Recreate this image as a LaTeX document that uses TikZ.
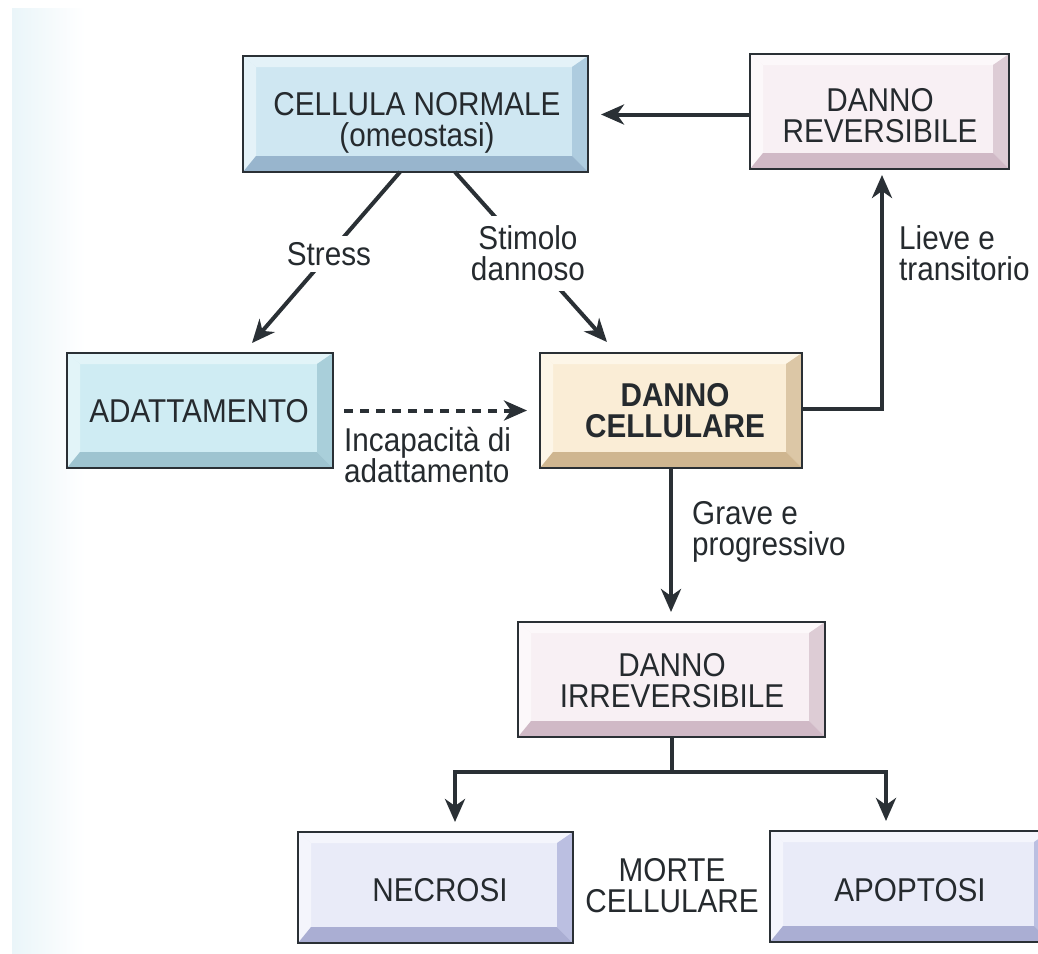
\documentclass[tikz,border=0pt]{standalone}
\usepackage{fontspec}
\setmainfont{Liberation Sans}[FakeStretch=0.9]
\usetikzlibrary{calc,arrows.meta}
\definecolor{ink}{HTML}{2A3035}
\definecolor{txt}{HTML}{252A2E}
\definecolor{strip}{HTML}{EAF5F9}
% cellula normale (blue)
\definecolor{cnF}{HTML}{CFE7F2}\definecolor{cnL}{HTML}{E4F2F8}\definecolor{cnR}{HTML}{AECCDF}\definecolor{cnB}{HTML}{98B5CD}
% adattamento (cyan)
\definecolor{adF}{HTML}{CFECF3}\definecolor{adL}{HTML}{E2F4F8}\definecolor{adR}{HTML}{A9CFDA}\definecolor{adB}{HTML}{9EC4D0}
% danno cellulare (cream)
\definecolor{dcF}{HTML}{FAEDD6}\definecolor{dcL}{HTML}{FDF6E8}\definecolor{dcR}{HTML}{DCC7A6}\definecolor{dcB}{HTML}{CFB690}
% danno (pink)
\definecolor{dpF}{HTML}{F8F0F4}\definecolor{dpL}{HTML}{FCF8FA}\definecolor{dpR}{HTML}{DDCCD5}\definecolor{dpB}{HTML}{D0B9C6}
% morte (lavender)
\definecolor{mtF}{HTML}{E9EBF8}\definecolor{mtL}{HTML}{F4F5FC}\definecolor{mtR}{HTML}{BBBFE1}\definecolor{mtB}{HTML}{AAAED3}
\newcommand\bevL{13}
\newcommand\bevT{11}
\newcommand\bevR{16}
\newcommand\bevB{16}
\tikzset{
  every node/.style={font=\fontsize{33}{31}\selectfont, text=txt},
  boxline/.style={draw=ink, line width=1.8pt},
  boxtext/.style={align=center, inner sep=0pt},
  lbl/.style={align=left, inner sep=0pt},
  cut/.style={fill=white, inner xsep=4pt, inner ysep=6pt, align=center},
  ln/.style={draw=ink, line width=4pt},
  arr/.style={draw=ink, line width=4pt, -{Stealth[length=23pt,width=20pt,inset=7pt]}},
  darr/.style={arr, dash pattern=on 9pt off 7pt},
}
% #1 name, #2 cx, #3 cy, #4 width, #5 height, #6 colour prefix, #7 text position, #8 text
\newcommand\bevbox[8]{%
  \node[minimum width=#4pt, minimum height=#5pt, inner sep=0pt, outer sep=0pt] (#1) at (#2,#3) {};
  \fill[#6F] (#1.north west) rectangle (#1.south east);
  \fill[#6L] (#1.north west) -- (#1.north east) -- ($(#1.north east)+(-\bevR,\bevT)$) -- ($(#1.north west)+(\bevL,\bevT)$) -- cycle;
  \fill[#6L] (#1.north west) -- ($(#1.north west)+(\bevL,\bevT)$) -- ($(#1.south west)+(\bevL,-\bevB)$) -- (#1.south west) -- cycle;
  \fill[#6R] (#1.north east) -- (#1.south east) -- ($(#1.south east)+(-\bevR,-\bevB)$) -- ($(#1.north east)+(-\bevR,\bevT)$) -- cycle;
  \fill[#6B] (#1.south west) -- (#1.south east) -- ($(#1.south east)+(-\bevR,-\bevB)$) -- ($(#1.south west)+(\bevL,-\bevB)$) -- cycle;
  \draw[boxline] (#1.north west) rectangle (#1.south east);
  \node[boxtext] (#1-t) at #7 {#8};
}
\begin{document}
\begin{tikzpicture}[x=1pt, y=-1pt]
\useasboundingbox (0,0) rectangle (1038,953);
\clip (0,0) rectangle (1038,953);
\fill[white] (0,0) rectangle (1038,953);
\shade[left color=strip, right color=white] (12,8) rectangle (85,953);

% boxes
\bevbox{CN}{415.5}{114}{345}{116}{cn}{(417,123)}{CELLULA NORMALE\\(omeostasi)}
\bevbox{DR}{879.5}{111.5}{259}{115}{dp}{(880,116)}{DANNO\\REVERSIBILE}
\bevbox{AD}{200}{410.5}{266}{115}{ad}{(199,411)}{ADATTAMENTO}
\bevbox{DC}{671}{410.5}{262}{115}{dc}{(675,411)}{\bfseries DANNO\\\bfseries CELLULARE}
\bevbox{DI}{671.5}{679.5}{307}{115}{dp}{(672,681)}{DANNO\\IRREVERSIBILE}
\bevbox{NE}{435.5}{887.5}{275}{111}{mt}{(440,890)}{NECROSI}
\bevbox{AP}{910}{886.5}{280}{111}{mt}{(910,890)}{APOPTOSI}

% free ends
\coordinate (st1) at (400,172);
\coordinate (st2) at (252,343);
\coordinate (sd1) at (455,172);
\coordinate (sd2) at (607,342);
\coordinate (br) at (671.5,772);

% connectors
\draw[arr, shorten >=13pt] ([yshift=-3pt]DR.west) -- ([yshift=-3pt]DR.west -| CN.east);
\draw[arr] (st1) -- node[cut, pos=0.48] (stress) {Stress} (st2);
\draw[arr] (sd1) -- node[cut, pos=0.48, inner ysep=10pt] (stimolo) {Stimolo\\dannoso} (sd2);
\draw[darr, shorten <=11pt, shorten >=13pt] (AD.east) -- (DC.west);
\draw[arr, shorten >=6pt] ([yshift=2pt]DC.east) -| ([xshift=2.5pt]DR.south);
\draw[arr, shorten >=10pt] (DC.south) -- (DC.south |- DI.north);
\draw[ln] (DI.south) -- (br);
\draw[arr, shorten >=10pt] (br) -| ([xshift=19.5pt]NE.north);
\draw[arr, shorten >=10pt] (br) -| ([xshift=-24pt]AP.north);

% labels
\node[lbl, anchor=west] (incap) at (344,455) {Incapacità di\\adattamento};
\node[lbl, anchor=west] (lieve) at (899,253) {Lieve e\\transitorio};
\node[lbl, anchor=west] (grave) at (692,532) {Grave e\\progressivo};
\node[boxtext] (morte) at (672,886) {MORTE\\CELLULARE};
\end{tikzpicture}
\end{document}
